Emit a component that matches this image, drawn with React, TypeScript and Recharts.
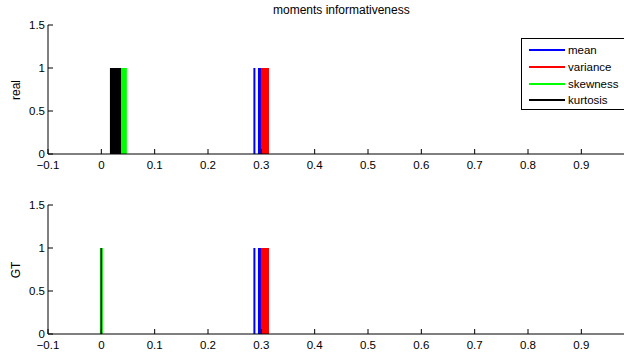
import React from "react";
import { LineChart, Line, XAxis, YAxis } from "recharts";

// positions (x) of the vertical unit lines
const meanReal = [0.287, 0.2955, 0.298, 0.3105];
const varianceReal = [0.301, 0.3035, 0.306, 0.3085, 0.311, 0.3125];
const skewnessReal = [0.037, 0.0395, 0.042, 0.0445, 0.046];
const kurtosisReal = [0.018, 0.0205, 0.023, 0.0255, 0.028, 0.0305, 0.033, 0.035];

const meanGT = [0.287, 0.2955, 0.298, 0.3105];
const varianceGT = [0.301, 0.3035, 0.306, 0.3085, 0.311, 0.3125];
const skewnessGT = [0];
const kurtosisGT = [0];

const xTicks = [-0.1, 0, 0.1, 0.2, 0.3, 0.4, 0.5, 0.6, 0.7, 0.8, 0.9];
const yTicks = [0, 0.5, 1, 1.5];

const seriesNames = ["mean", "variance", "skewness", "kurtosis"];
const seriesColors = ["#0000ff", "#ff0000", "#00ff00", "#000000"];

const font = "'Liberation Sans', Arial, Helvetica, sans-serif";

// each position becomes a segment from 0 to 1, broken by a null
function stems(xs: number[]) {
  const pts: { x: number; y: number | null }[] = [];
  xs.forEach((x) => {
    pts.push({ x, y: 0 });
    pts.push({ x, y: 1 });
    pts.push({ x, y: null });
  });
  return pts;
}

function fmt(v: number) {
  const s = (Math.round(v * 10) / 10).toString();
  return s.startsWith("-") ? "\u2212" + s.slice(1) : s;
}

const XTick = (props: any) => {
  const { x, y, payload } = props;
  return (
    <g>
      <line x1={x} x2={x} y1={y} y2={y - 5} stroke="#000" />
      <text x={x} y={y + 15} textAnchor="middle" fontSize={11.5} fontFamily={font} fill="#000">
        {fmt(payload.value)}
      </text>
    </g>
  );
};

const YTick = (props: any) => {
  const { x, y, payload } = props;
  return (
    <g>
      <line x1={x} x2={x + 5} y1={y} y2={y} stroke="#000" />
      <text x={x - 3} y={y + 4} textAnchor="end" fontSize={11.5} fontFamily={font} fill="#000">
        {fmt(payload.value)}
      </text>
    </g>
  );
};

function Panel({ series, widths }: { series: number[][]; widths: number[] }) {
  return (
    <LineChart width={624} height={174} margin={{ top: 25, right: 0, left: 0, bottom: 0 }}>
      <XAxis
        dataKey="x"
        type="number"
        domain={[-0.1, 0.98]}
        ticks={xTicks}
        allowDataOverflow
        height={20}
        tickSize={0}
        tickMargin={0}
        tick={<XTick />}
        axisLine={{ stroke: "#000" }}
        interval={0}
      />
      <YAxis
        type="number"
        domain={[0, 1.5]}
        ticks={yTicks}
        width={48}
        tickSize={0}
        tickMargin={0}
        tick={<YTick />}
        axisLine={{ stroke: "#000" }}
        interval={0}
      />
      {series.map((xs, i) => (
        <Line
          key={seriesNames[i]}
          name={seriesNames[i]}
          data={stems(xs)}
          dataKey="y"
          type="linear"
          stroke={seriesColors[i]}
          strokeWidth={widths[i]}
          strokeLinecap="butt"
          dot={false}
          activeDot={false}
          connectNulls={false}
          isAnimationActive={false}
        />
      ))}
    </LineChart>
  );
}

export default function App() {
  return (
    <div
      style={{
        position: "absolute",
        left: 0,
        top: 0,
        width: 624,
        height: 354,
        overflow: "hidden",
        background: "#fff",
        fontFamily: font,
      }}
    >
      <div style={{ position: "absolute", left: 0, top: 0 }}>
        <Panel series={[meanReal, varianceReal, skewnessReal, kurtosisReal]} widths={[2, 2, 2, 2]} />
      </div>
      <div style={{ position: "absolute", left: 0, top: 180 }}>
        <Panel series={[meanGT, varianceGT, skewnessGT, kurtosisGT]} widths={[2, 2, 3, 1.5]} />
      </div>
      <div
        style={{
          position: "absolute",
          left: 273,
          top: 3,
          fontSize: 12,
          whiteSpace: "nowrap",
        }}
      >
        moments informativeness
      </div>
      {[
        { t: "real", cy: 89.5 },
        { t: "GT", cy: 269.5 },
      ].map((l) => (
        <div
          key={l.t}
          style={{
            position: "absolute",
            left: 16,
            top: l.cy,
            fontSize: 12,
            whiteSpace: "nowrap",
            transform: "translate(-50%, -50%) rotate(-90deg)",
          }}
        >
          {l.t}
        </div>
      ))}
      <div
        style={{
          position: "absolute",
          left: 521,
          top: 38,
          width: 120,
          height: 72,
          border: "1px solid #000",
          background: "#fff",
          boxSizing: "border-box",
          paddingTop: 3,
        }}
      >
        {seriesNames.map((n, i) => (
          <div key={n} style={{ display: "flex", alignItems: "center", height: 16.7, fontSize: 11.5 }}>
            <div style={{ marginLeft: 7, width: 36, height: 2, background: seriesColors[i] }} />
            <span style={{ marginLeft: 3 }}>{n}</span>
          </div>
        ))}
      </div>
    </div>
  );
}
